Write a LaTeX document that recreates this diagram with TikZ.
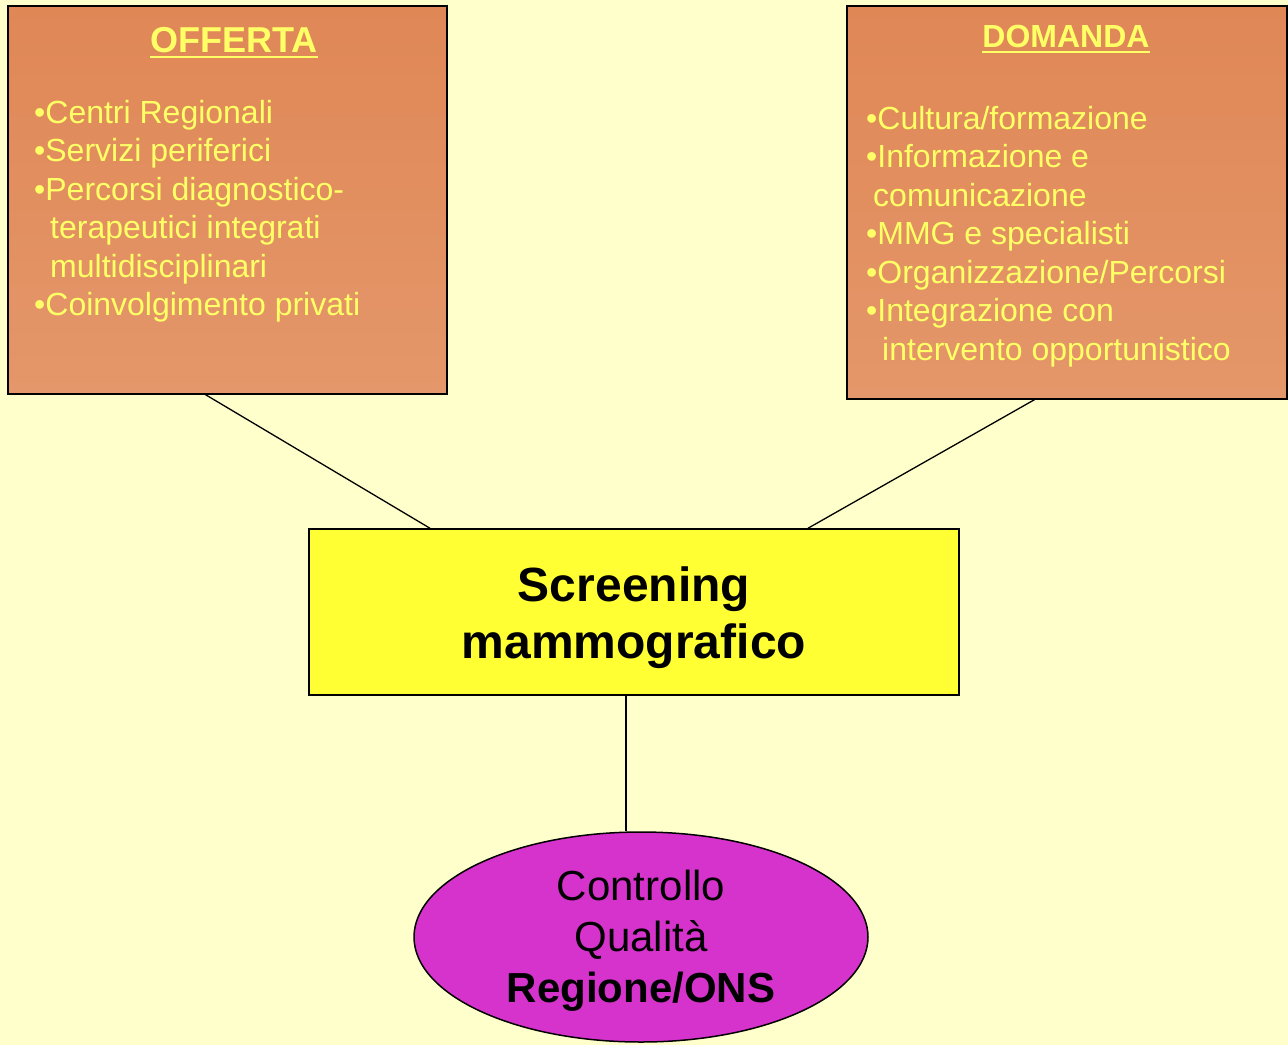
\documentclass[tikz,border=0pt]{standalone}
\usepackage{fontspec}
\setmainfont{Liberation Sans}
\usetikzlibrary{shapes.geometric}

\definecolor{sfondo}{HTML}{FFFFCC}
\definecolor{arancioA}{HTML}{E08756}
\definecolor{arancioB}{HTML}{E4976A}
\definecolor{giallotesto}{HTML}{FFFF66}
\definecolor{giallobox}{HTML}{FFFF33}
\definecolor{viola}{HTML}{D633CC}

\begin{document}
\begin{tikzpicture}[x=1pt, y=-1pt]

    \tikzset{boxstyle/.style={draw, line width=1.5pt, rectangle, inner sep=0, top color=arancioA, bottom color=arancioB, anchor=north west}}
    \tikzset{titlestyle/.style={text=giallotesto, inner sep=0, anchor=base, font=\bfseries\fontsize{#1}{#1}\selectfont}}
    \tikzset{liststyle/.style={text=giallotesto, inner sep=0, anchor=north west, align=left, font=\fontsize{32}{38.5}\selectfont}}
    \tikzset{connstyle/.style={draw, line width=1.3pt}}

    % Sfondo.
    \useasboundingbox (0,0) rectangle (1288,1045);
    \fill[sfondo] (0,0) rectangle (1288,1045);

    \node[boxstyle, minimum width=439pt, minimum height=388pt] (offerta) at (7,5) {};
    \node[boxstyle, minimum width=440pt, minimum height=393pt] (domanda) at (846,5) {};

    \node[draw, line width=1.5pt, fill=giallobox, minimum width=650pt, minimum height=166pt, align=center,
          font=\bfseries\fontsize{48}{57}\selectfont] (screening) at (634,612) {\rule{0pt}{47pt}Screening\\mammografico};

    \node[ellipse, draw, line width=1.5pt, fill=viola, inner sep=0, minimum width=454pt, minimum height=210pt,
          align=center, font=\fontsize{42}{51}\selectfont] (qualita) at (641,937)
          {\rule{0pt}{37pt}Controllo\\Qualità\\\textbf{Regione/ONS}};

    % Titoli.
    \node[titlestyle=36] (ttlofferta) at (234,52) {OFFERTA};
    \node[titlestyle=32] (ttldomanda) at (1066,47) {DOMANDA};
    \draw[giallotesto, line width=2.5pt] ([yshift=-5pt]ttlofferta.base west) -- ([yshift=-5pt]ttlofferta.base east);
    \draw[giallotesto, line width=2.5pt] ([yshift=-5pt]ttldomanda.base west) -- ([yshift=-5pt]ttldomanda.base east);

    % Elenchi.
    \node[liststyle] (listofferta) at (34,100) {%
        •Centri Regionali\\
        •Servizi periferici\\
        •Percorsi diagnostico-\\
        \hspace*{16pt}terapeutici integrati\\
        \hspace*{16pt}multidisciplinari\\
        •Coinvolgimento privati};
    \node[liststyle] (listdomanda) at (866,106) {%
        •Cultura/formazione\\
        •Informazione e\\
        \hspace*{7pt}comunicazione\\
        •MMG e specialisti\\
        •Organizzazione/Percorsi\\
        •Integrazione con\\
        \hspace*{16pt}intervento opportunistico};

    \begin{scope}[every path/.style={connstyle}]
        \draw ([xshift=-22pt]offerta.south) -- ([xshift=-204pt]screening.north);
        \draw ([xshift=-32pt]domanda.south) -- ([xshift=174pt]screening.north);
        \draw ([xshift=-8pt]screening.south) -- ([xshift=-15pt]qualita.north);
    \end{scope}

\end{tikzpicture}
\end{document}
